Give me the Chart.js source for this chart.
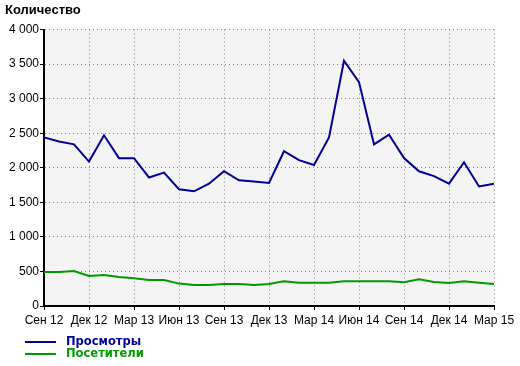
<!DOCTYPE html>
<html>
<head>
<meta charset="utf-8">
<script src="https://cdn.jsdelivr.net/npm/chart.js@4"></script>
<style>
  body { margin: 0; background: #fff; }
  #wrap { position: relative; width: 520px; height: 366px; }
  #legend { position: absolute; left: 25px; top: 335px; font: bold 11.5px "DejaVu Sans", sans-serif; }
  #legend div { height: 12px; line-height: 12px; white-space: nowrap; }
  #legend span.ln { display: inline-block; width: 31px; height: 2px; vertical-align: middle; margin-right: 10px; }
</style>
</head>
<body>
<div id="wrap">
  <canvas id="chart" width="520" height="366"></canvas>
  <div id="legend"></div>
</div>
<script>
// months, Sep 2012 .. Mar 2015
const months = ['Сен 12','Окт 12','Ноя 12','Дек 12','Янв 13','Фев 13','Мар 13','Апр 13','Май 13','Июн 13',
  'Июл 13','Авг 13','Сен 13','Окт 13','Ноя 13','Дек 13','Янв 14','Фев 14','Мар 14','Апр 14','Май 14',
  'Июн 14','Июл 14','Авг 14','Сен 14','Окт 14','Ноя 14','Дек 14','Янв 15','Фев 15','Мар 15'];
// labels shown on the x axis (quarterly)
const xTickLabels = ['Сен 12','Дек 12','Мар 13','Июн 13','Сен 13','Дек 13','Мар 14','Июн 14','Сен 14','Дек 14','Мар 15'];

const seriesNames = ['Просмотры', 'Посетители'];
const seriesColors = ['#000099', '#009900'];

const views = [2440, 2380, 2340, 2090, 2470, 2140, 2140, 1860, 1930, 1690,
  1660, 1770, 1950, 1820, 1800, 1780, 2240, 2110, 2040, 2440, 3550,
  3240, 2340, 2480, 2140, 1950, 1880, 1770, 2080, 1730, 1770];
const visitors = [492, 492, 507, 434, 449, 420, 401, 376, 376, 324,
  304, 304, 318, 318, 304, 318, 357, 338, 338, 338, 357,
  357, 357, 357, 343, 386, 348, 333, 357, 338, 318];

const yMin = 0, yMax = 4000, yStep = 500;
const yTitle = 'Количество';

// grey plot background
const plotBg = {
  id: 'plotBg',
  beforeDraw(chart) {
    const a = chart.chartArea, ctx = chart.ctx;
    ctx.save();
    ctx.fillStyle = '#f4f4f4';
    ctx.fillRect(a.left, a.top, a.right - a.left, a.bottom - a.top);
    ctx.restore();
  }
};

function fmt(v) { return String(v).replace(/\B(?=(\d{3})+(?!\d))/g, ' '); }
const isQuarter = (i) => xTickLabels.includes(months[i]);

const chart = new Chart(document.getElementById('chart'), {
  type: 'line',
  data: {
    labels: months,
    datasets: [
      { label: seriesNames[0], data: views, borderColor: seriesColors[0], borderWidth: 2, pointRadius: 0, tension: 0, fill: false },
      { label: seriesNames[1], data: visitors, borderColor: seriesColors[1], borderWidth: 2, pointRadius: 0, tension: 0, fill: false }
    ]
  },
  options: {
    responsive: false,
    animation: false,
    events: [],
    layout: { padding: { left: 5, right: 26, top: 0, bottom: 34 } },
    plugins: {
      legend: { display: false },
      tooltip: { enabled: false },
      title: {
        display: true, text: yTitle, align: 'start', color: '#000',
        font: { family: '"Liberation Sans", Arial, sans-serif', size: 13, weight: 'bold' },
        padding: { top: 3, bottom: 11 }
      }
    },
    scales: {
      x: {
        afterFit(scale) { scale.height = 26; },
        grid: {
          color: (c) => isQuarter(c.index) ? '#808080' : 'rgba(0,0,0,0)',
          tickColor: (c) => isQuarter(c.index) ? '#000' : 'rgba(0,0,0,0)',
          tickLength: 4, lineWidth: 1
        },
        border: { display: true, color: '#000', width: 2, dash: [1, 3] },
        ticks: {
          autoSkip: false, maxRotation: 0, minRotation: 0, padding: 3, color: '#000',
          font: { family: '"Liberation Sans", Arial, sans-serif', size: 12 },
          callback: (v, i) => isQuarter(i) ? months[i] : ''
        }
      },
      y: {
        min: yMin, max: yMax,
        afterFit(scale) { scale.width = 39; },
        grid: { color: '#808080', tickColor: '#000', tickLength: 4, lineWidth: 1 },
        border: { display: true, color: '#000', width: 2, dash: [1, 3] },
        ticks: {
          stepSize: yStep, padding: 1, color: '#000',
          font: { family: '"Liberation Sans", Arial, sans-serif', size: 12 },
          callback: (v) => fmt(v)
        }
      }
    }
  },
  plugins: [plotBg]
});

// legend below the plot
const legend = document.getElementById('legend');
chart.data.datasets.forEach((ds) => {
  const row = document.createElement('div');
  row.style.color = ds.borderColor;
  const ln = document.createElement('span');
  ln.className = 'ln';
  ln.style.background = ds.borderColor;
  row.appendChild(ln);
  row.appendChild(document.createTextNode(ds.label));
  legend.appendChild(row);
});
</script>
</body>
</html>
